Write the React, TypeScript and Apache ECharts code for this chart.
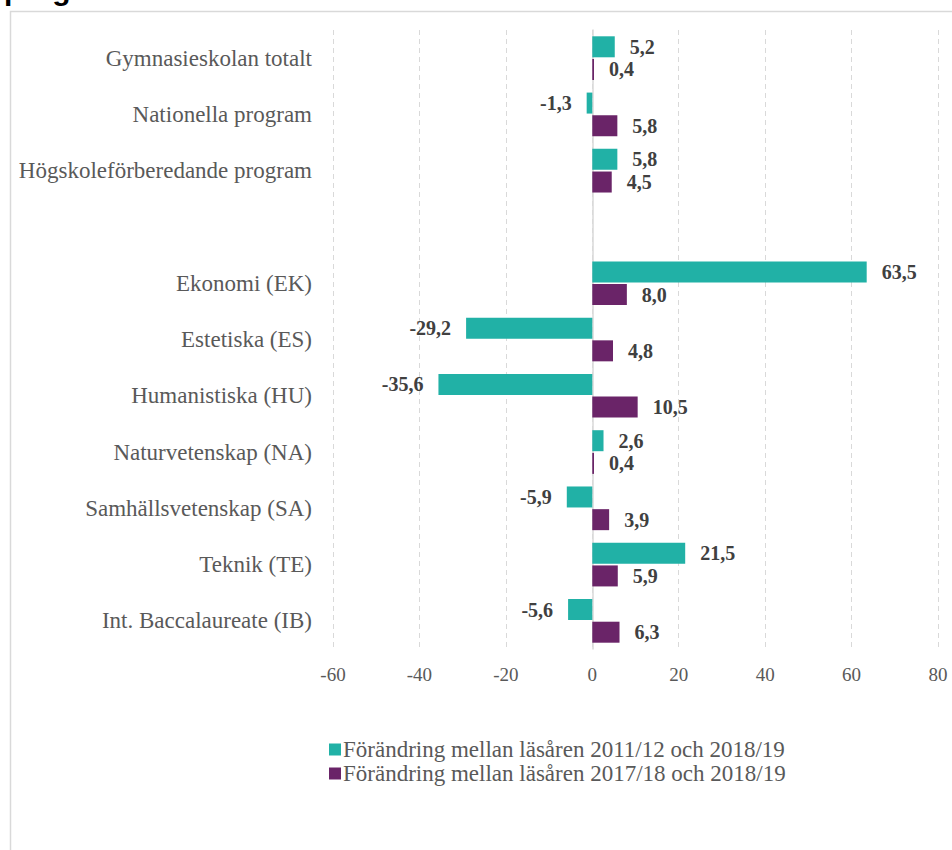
import React, { useEffect, useRef } from "react";
import * as echarts from "echarts";

const categories = [
  "Gymnasieskolan totalt",
  "Nationella program",
  "Högskoleförberedande program",
  "",
  "Ekonomi (EK)",
  "Estetiska (ES)",
  "Humanistiska (HU)",
  "Naturvetenskap (NA)",
  "Samhällsvetenskap (SA)",
  "Teknik (TE)",
  "Int. Baccalaureate (IB)",
];

const seriesNames = [
  "Förändring mellan läsåren 2011/12 och 2018/19",
  "Förändring mellan läsåren 2017/18 och 2018/19",
];

const change2011: (number | null)[] = [5.2, -1.3, 5.8, null, 63.5, -29.2, -35.6, 2.6, -5.9, 21.5, -5.6];
const change2017: (number | null)[] = [0.4, 5.8, 4.5, null, 8.0, 4.8, 10.5, 0.4, 3.9, 5.9, 6.3];

const xTicks = { min: -60, max: 80, interval: 20 };

const TEAL = "#21B1A6";
const PURPLE = "#6A2468";
const SERIF = "'Liberation Serif', 'DejaVu Serif', serif";

function toData(values: (number | null)[]) {
  return values.map((v) =>
    v === null
      ? "-"
      : {
          value: v,
          label: { position: v < 0 ? "left" : "right" },
        }
  );
}

export default function App() {
  const ref = useRef<HTMLDivElement>(null);
  useEffect(() => {
    if (!ref.current) return;
    const chart = echarts.init(ref.current, null, { renderer: "svg" });
    const labelCfg = {
      show: true,
      distance: 15,
      fontFamily: SERIF,
      fontWeight: "bold",
      fontSize: 20,
      color: "#404040",
      formatter: (p: any) => Number(p.value).toFixed(1).replace(".", ","),
    };
    chart.setOption({
      animation: false,
      backgroundColor: "#ffffff",
      graphic: [
        {
          type: "rect",
          shape: { x: 10.5, y: 11.5, width: 1200, height: 1200 },
          style: { fill: "none", stroke: "#d9d9d9", lineWidth: 1.5 },
          silent: true,
        },
        {
          type: "text",
          left: 4,
          top: -26,
          style: {
            text: "program",
            font: "bold 30px 'Liberation Sans', Arial, sans-serif",
            fill: "#000000",
          },
          silent: true,
        },
      ],
      grid: { left: 333, right: 14, top: 30, bottom: 201, containLabel: false },
      legend: {
        orient: "vertical",
        left: 324,
        top: 733,
        itemWidth: 12,
        itemHeight: 12,
        itemGap: 1,
        icon: "rect",
        textStyle: { fontFamily: SERIF, fontSize: 23, color: "#595959", padding: [0, 0, 0, -3] },
        data: seriesNames,
      },
      xAxis: {
        type: "value",
        min: xTicks.min,
        max: xTicks.max,
        interval: xTicks.interval,
        axisLine: { show: false },
        axisTick: { show: false },
        axisLabel: { fontFamily: SERIF, fontSize: 19, color: "#595959", margin: 16 },
        splitLine: { show: true, lineStyle: { color: "#d9d9d9", type: [5, 4], width: 1 } },
      },
      yAxis: {
        type: "category",
        inverse: true,
        data: categories,
        axisLine: { show: true, onZero: true, lineStyle: { color: "#d9d9d9", width: 1.5 } },
        axisTick: { show: false },
        axisLabel: { fontFamily: SERIF, fontSize: 23, color: "#595959", margin: 21 },
        splitLine: { show: false },
      },
      series: [
        {
          name: seriesNames[0],
          type: "bar",
          data: toData(change2011),
          itemStyle: { color: TEAL },
          barWidth: 21,
          barGap: "8%",
          label: labelCfg,
        },
        {
          name: seriesNames[1],
          type: "bar",
          data: toData(change2017),
          itemStyle: { color: PURPLE },
          barWidth: 21,
          barGap: "8%",
          label: labelCfg,
        },
      ],
    });
    return () => chart.dispose();
  }, []);
  return (
    <div
      ref={ref}
      style={{ position: "fixed", left: 0, top: 0, width: 952, height: 850 }}
    />
  );
}
